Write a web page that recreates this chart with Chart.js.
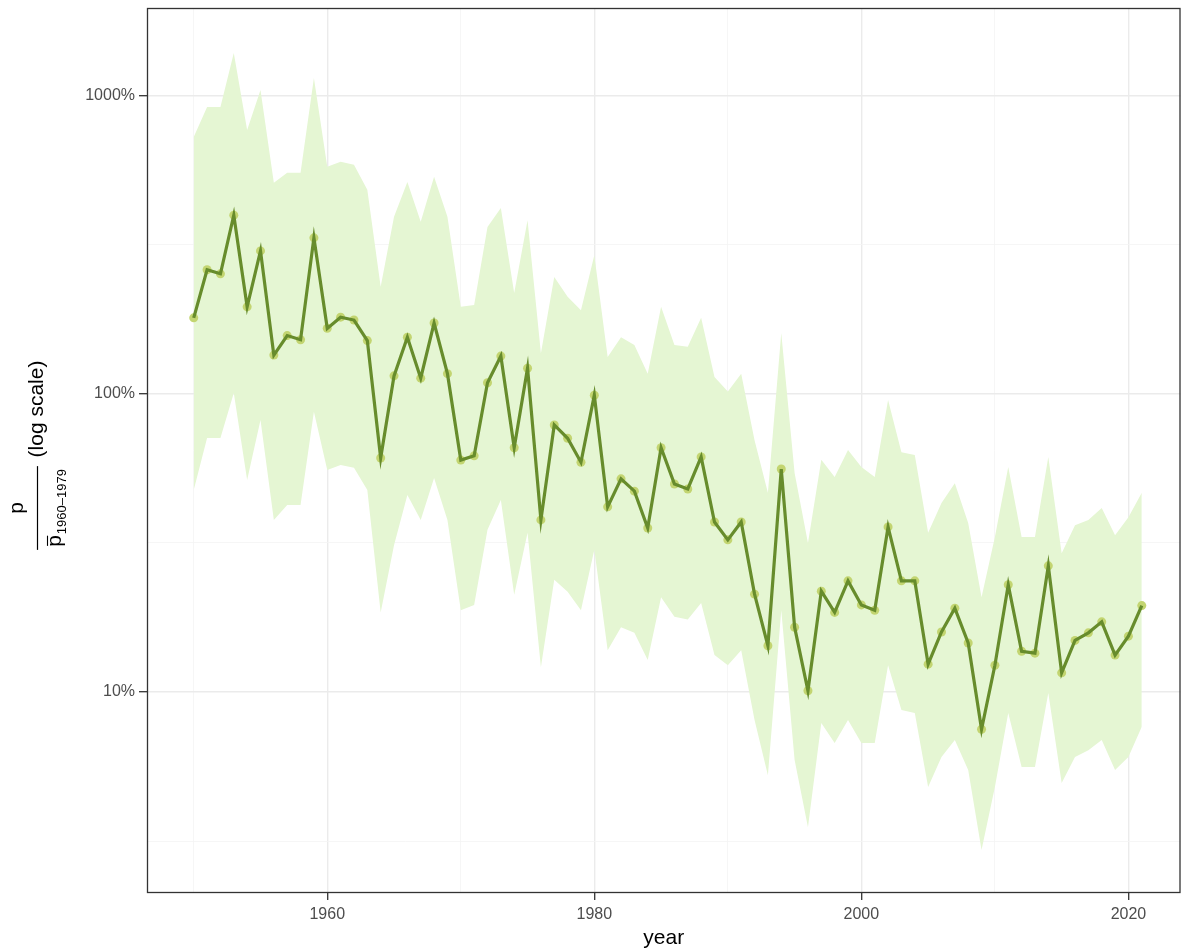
<!DOCTYPE html>
<html>
<head>
<meta charset="utf-8">
<script src="https://cdn.jsdelivr.net/npm/chart.js@4/dist/chart.umd.min.js"></script>
<style>
  html, body { margin: 0; padding: 0; background: #ffffff; }
  #wrap { width: 1185px; height: 951px; }
</style>
</head>
<body>
<div id="wrap"><canvas id="c" width="1185" height="951"></canvas></div>
<script>
// ---- data (values in %) ----
const years = [1950,1951,1952,1953,1954,1955,1956,1957,1958,1959,1960,1961,1962,1963,1964,1965,1966,1967,1968,1969,1970,1971,1972,1973,1974,1975,1976,1977,1978,1979,1980,1981,1982,1983,1984,1985,1986,1987,1988,1989,1990,1991,1992,1993,1994,1995,1996,1997,1998,1999,2000,2001,2002,2003,2004,2005,2006,2007,2008,2009,2010,2011,2012,2013,2014,2015,2016,2017,2018,2019,2020,2021];
const ratio = [180,261,253,398,196,302,135,157,152,334,166,181,177,151,61,115,155,113,173,117,60,62,109,134,66,122,37.8,78.7,71,59,99,41.8,51.9,47.2,35.5,66,49.9,48,61.5,37.2,32.4,37.2,21.3,14.3,56,16.5,10.1,21.8,18.5,23.6,19.6,18.8,35.8,23.6,23.6,12.4,15.9,19.1,14.6,7.5,12.3,22.9,13.7,13.5,26.5,11.6,14.9,15.8,17.2,13.3,15.4,19.5];
const upper = [728,918,918,1394,769,1047,511,552,552,1149,578,601,587,484,229,393,514,378,535,393,196,199,363,421,218,383,137,247,212,191,292,133,155,146,117,196,146,144,180,114,102,117,70,46.6,160,54.3,31.6,60.1,52.7,64.9,56.9,52.7,95.5,63.8,62.4,34.2,43.1,50.2,36.9,20.8,33.1,56.9,33.1,33.1,61.5,29.2,36.3,37.8,41.4,33.6,38.6,46.6];
const lower = [47.6,71.1,71.1,100.7,51.4,81.8,37.8,42.4,42.4,87.1,55.6,57.8,56.5,47.6,18.5,31.1,45.8,37.8,52.2,37.8,18.8,19.6,35,44.1,21.2,34.2,12.1,23.8,21.7,18.8,30,13.8,16.5,15.8,12.8,20.8,17.9,17.5,19.9,13.3,12.3,13.8,8.05,5.26,18.8,5.91,3.52,7.87,6.74,8.05,6.74,6.74,12.3,8.71,8.51,4.80,6.05,6.90,5.47,2.95,4.80,8.51,5.60,5.60,9.93,4.95,6.05,6.38,6.90,5.47,6.05,7.64];
const xMajorTicks = [1960,1980,2000,2020];
const xMinorTicks = [1950,1970,1990,2010];
const yMajorTicks = [10,100,1000];
const yMinorTicks = [3.1623,31.623,316.23];
const xTitle = 'year';
const yTitleNum = 'p';
const yTitleDen = 'p';
const yTitleSub = '1960\u20131979';
const yTitleNote = '(log scale)';

const FONT = '"Liberation Sans", Arial, Helvetica, sans-serif';
const isMajorX = v => xMajorTicks.includes(Math.round(v));
const isMajorY = v => yMajorTicks.some(t => Math.abs(t - v) / t < 1e-6);

const titlesPlugin = {
  id: 'titles',
  afterDraw(chart) {
    const ctx = chart.ctx;
    const a = chart.chartArea;
    ctx.save();
    // panel border
    ctx.strokeStyle = '#333333';
    ctx.lineWidth = 1.3;
    ctx.strokeRect(a.left + 0.5, a.top + 0.5, a.right - a.left - 1, a.bottom - a.top - 1);

    // x title
    ctx.fillStyle = '#000000';
    ctx.font = '21px ' + FONT;
    ctx.textAlign = 'center';
    ctx.textBaseline = 'middle';
    ctx.fillText(xTitle, (a.left + a.right) / 2, 938);

    // y title: fraction + note, rotated
    const cy = 508;
    const lineX = 37.5;
    ctx.font = '21px ' + FONT;
    const wP = ctx.measureText(yTitleDen).width;
    ctx.font = '13px ' + FONT;
    const wSub = ctx.measureText(yTitleSub).width;
    const denW = wP + 1 + wSub;
    const barLen = denW + 6;

    ctx.strokeStyle = '#000000';
    ctx.lineWidth = 1.2;
    ctx.beginPath();
    ctx.moveTo(lineX, cy + barLen / 2);
    ctx.lineTo(lineX, cy - barLen / 2);
    ctx.stroke();

    ctx.save();
    ctx.translate(23, cy);
    ctx.rotate(-Math.PI / 2);
    ctx.font = '21px ' + FONT;
    ctx.textAlign = 'center';
    ctx.textBaseline = 'alphabetic';
    ctx.fillText(yTitleNum, 0, 0);
    ctx.restore();

    ctx.save();
    ctx.translate(61, cy);
    ctx.rotate(-Math.PI / 2);
    ctx.textAlign = 'left';
    ctx.textBaseline = 'alphabetic';
    ctx.font = '21px ' + FONT;
    const u0 = -denW / 2;
    ctx.fillText(yTitleDen, u0, 0);
    ctx.lineWidth = 1.1;
    ctx.beginPath();
    ctx.moveTo(u0 + 1, -13.5);
    ctx.lineTo(u0 + wP - 0.5, -13.5);
    ctx.stroke();
    ctx.font = '13px ' + FONT;
    ctx.fillText(yTitleSub, u0 + wP + 1, 5);
    ctx.restore();

    ctx.save();
    ctx.translate(37.5, 409);
    ctx.rotate(-Math.PI / 2);
    ctx.font = '21px ' + FONT;
    ctx.textAlign = 'center';
    ctx.textBaseline = 'middle';
    ctx.fillText(yTitleNote, 0, 0);
    ctx.restore();

    ctx.restore();
  }
};

const bgPlugin = {
  id: 'bg',
  beforeDraw(chart) {
    const ctx = chart.ctx;
    ctx.save();
    ctx.fillStyle = '#ffffff';
    ctx.fillRect(0, 0, chart.width, chart.height);
    ctx.restore();
  }
};

const toXY = arr => years.map((y, i) => ({ x: y, y: arr[i] }));

new Chart(document.getElementById('c'), {
  type: 'line',
  data: {
    datasets: [
      {
        label: 'upper',
        data: toXY(upper),
        borderWidth: 0,
        borderColor: 'rgba(0,0,0,0)',
        backgroundColor: 'rgb(229,246,211)',
        pointRadius: 0,
        fill: '+1',
        tension: 0,
        order: 4
      },
      {
        label: 'lower',
        data: toXY(lower),
        borderWidth: 0,
        borderColor: 'rgba(0,0,0,0)',
        pointRadius: 0,
        fill: false,
        tension: 0,
        order: 5
      },
      {
        label: 'points',
        data: toXY(ratio),
        showLine: false,
        pointRadius: 4.5,
        pointBorderWidth: 0,
        pointBackgroundColor: '#c3d571',
        pointBorderColor: '#c3d571',
        order: 2
      },
      {
        label: 'ratio',
        data: toXY(ratio),
        borderColor: '#678c2c',
        borderWidth: 3.2,
        pointRadius: 0,
        fill: false,
        tension: 0,
        order: 1
      }
    ]
  },
  options: {
    responsive: false,
    animation: false,
    devicePixelRatio: 1,
    layout: { padding: { top: 8, right: -1, left: 0, bottom: 0 } },
    plugins: {
      legend: { display: false },
      tooltip: { enabled: false },
      title: { display: false }
    },
    scales: {
      x: {
        type: 'linear',
        min: 1946.5,
        max: 2023.9,
        afterBuildTicks(scale) {
          scale.ticks = xMinorTicks.concat(xMajorTicks).sort((a, b) => a - b).map(v => ({ value: v }));
        },
        afterFit(scale) {
          scale.height = 58;
          scale.paddingLeft = 0; scale.paddingRight = 0;
          scale.paddingTop = 0; scale.paddingBottom = 0;
        },
        ticks: {
          autoSkip: false,
          maxRotation: 0,
          padding: 5,
          color: '#4d4d4d',
          font: { family: FONT, size: 16 },
          callback: v => (isMajorX(v) ? String(v) : '')
        },
        grid: {
          drawOnChartArea: true,
          drawTicks: true,
          tickLength: 7,
          color: c => (isMajorX(c.tick.value) ? '#ebebeb' : '#f4f4f4'),
          lineWidth: c => (isMajorX(c.tick.value) ? 1.4 : 0.8),
          tickColor: c => (isMajorX(c.tick.value) ? '#333333' : 'rgba(0,0,0,0)'),
          tickWidth: 1.3
        },
        border: { display: false }
      },
      y: {
        type: 'logarithmic',
        min: 2.117,
        max: 1972,
        afterBuildTicks(scale) {
          scale.ticks = yMinorTicks.concat(yMajorTicks).sort((a, b) => a - b).map(v => ({ value: v }));
        },
        afterFit(scale) {
          scale.width = 147;
          scale.paddingLeft = 0; scale.paddingRight = 0;
          scale.paddingTop = 0; scale.paddingBottom = 0;
        },
        ticks: {
          autoSkip: false,
          padding: 4,
          color: '#4d4d4d',
          font: { family: FONT, size: 16 },
          callback: v => (isMajorY(v) ? Math.round(v) + '%' : '')
        },
        grid: {
          drawOnChartArea: true,
          drawTicks: true,
          tickLength: 8,
          color: c => (isMajorY(c.tick.value) ? '#ebebeb' : '#f4f4f4'),
          lineWidth: c => (isMajorY(c.tick.value) ? 1.4 : 0.8),
          tickColor: c => (isMajorY(c.tick.value) ? '#333333' : 'rgba(0,0,0,0)'),
          tickWidth: 1.3
        },
        border: { display: false }
      }
    }
  },
  plugins: [bgPlugin, titlesPlugin]
});
</script>
</body>
</html>
